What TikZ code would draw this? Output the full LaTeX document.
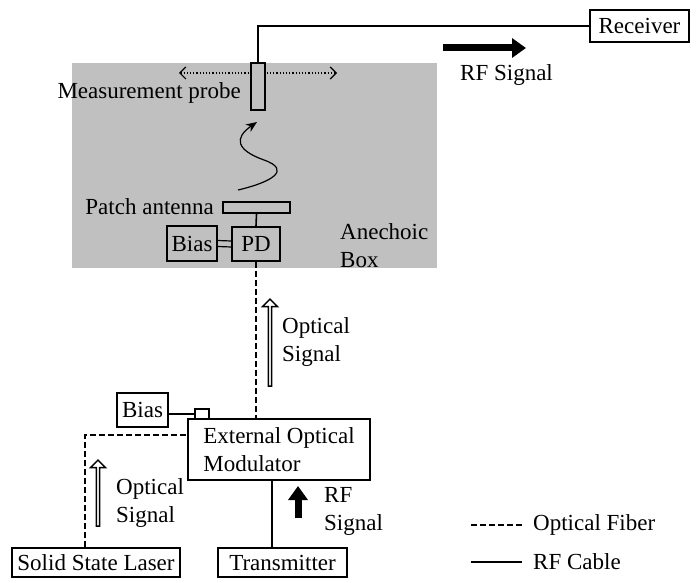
\documentclass[tikz,border=0pt]{standalone}
\usepackage{fontspec}
\setmainfont{Liberation Serif}
\usetikzlibrary{arrows.meta, positioning, shapes.arrows}
\definecolor{boxgray}{RGB}{192,192,192}

\begin{document}
\begin{tikzpicture}[
  x = 1pt, y = -1pt,
  every node/.style = {font=\fontsize{23}{28}\selectfont},
  unit/.style = {
    draw, rectangle, line width=1.6pt, inner sep=0pt, align=center
  },
  label/.style = {inner sep=0pt, align=left},
  fiber/.style = {line width=1.6pt, dash pattern=on 6pt off 3pt},
  rfcable/.style = {line width=1.6pt},
  optflow/.style = {
    draw, single arrow, rotate=90, line width=1.4pt, inner sep=0pt,
    minimum width=15pt, single arrow head extend=2.5pt, single arrow tip angle=90
  },
  rfflow/.style = {line width=7pt, -{Triangle[length=14pt, width=19pt]}}
]
\useasboundingbox (0,0) rectangle (697,583);

% Anechoic box background
\fill[boxgray] (72,63) rectangle (437,268);

% probe scan range, drawn before the probe so it hides behind it
\coordinate (scanL) at (179,73);
\coordinate (scanR) at (337,73);
\draw[dotted, line width=1.2pt, {Straight Barb[length=6pt, width=12pt]}-{Straight Barb[length=6pt, width=12pt]}]
  (scanL) -- (scanR);

\node[unit, fill=boxgray, minimum width=14pt, minimum height=47pt] (probe) at (258,86.5) {};
\node[unit, minimum width=99pt, minimum height=32pt] (receiver) at (639.5,26) {Receiver};
\node[unit, minimum width=67pt, minimum height=11pt] (patch) at (256.5,207.5) {};
\node[unit, minimum width=48pt, minimum height=34pt] (pd) at (256,244) {PD};
\node[unit, minimum width=50pt, minimum height=35pt] (biaspd) at (192,243.5) {Bias};

\node[unit, align=left, minimum width=182pt, minimum height=61pt] (modulator) at (279,449.5)
  {External Optical \\ Modulator};
\node[unit, minimum width=14pt, minimum height=10pt] (port) at (202,414) {};
\node[unit, minimum width=51pt, minimum height=34pt] (biasmod) at (142.5,410) {Bias};
\node[unit, minimum width=168pt, minimum height=29pt] (laser) at (96,562.5) {Solid State Laser};
\node[unit, minimum width=129pt, minimum height=29pt] (transmitter) at (282.5,562.5) {Transmitter};

% labels
\node[label, anchor=east] (probelabel) at (241,93) {Measurement probe};
\node[label, anchor=east] (patchlabel) at (214,207) {Patch antenna};
\node[label, anchor=west] (boxlabel) at (340,246) {Anechoic \\ Box};

% cables
\draw[rfcable] (probe.north) |- (receiver.west);
\draw[rfcable] (patch.south) -- (pd.north);
\draw[line width=1.2pt] ([yshift=3pt]biaspd.east) -- ([yshift=3pt]pd.west);
\draw[line width=1.2pt] ([yshift=-3pt]biaspd.east) -- ([yshift=-3pt]pd.west);
\draw[fiber] (pd.south) -- (pd.south |- modulator.north);
\draw[rfcable] (port.west -| biasmod.east) -- (port.west);
\draw[fiber] ([xshift=-11pt]laser.north) |- ([yshift=14.5pt]modulator.west);
\draw[rfcable] ([xshift=-10.5pt]transmitter.north) -- ([xshift=-10.5pt]transmitter.north |- modulator.south);

% radiated wave
\coordinate (wavestart) at (238,190);
\coordinate (waveend) at (257,122);
\draw[line width=1.2pt, -{Stealth[length=11pt, width=9pt]}]
  (wavestart) .. controls (272,182) and (292,170) .. (264,160)
  .. controls (236,150) and (234,138) .. (waveend);

% signal flow arrows
\node[optflow, minimum height=87pt] (optup) at (270,343.5) {};
\node[label, anchor=west] (optuplabel) at (282,342) {Optical \\ Signal};

\node[optflow, minimum height=66pt] (optlow) at (98,494) {};
\node[label, anchor=west] (optlowlabel) at (116,503) {Optical \\ Signal};

\coordinate (rflowS) at (298,518);
\coordinate (rflowE) at (298,486);
\draw[rfflow] (rflowS) -- (rflowE);
\node[label, anchor=west] (rflowlabel) at (324,511) {RF \\ Signal};

\coordinate (rftopS) at (443,48);
\coordinate (rftopE) at (526,48);
\draw[rfflow] (rftopS) -- (rftopE);
\node[label, anchor=west] (rftoplabel) at (460,75) {RF Signal};

% legend
\coordinate (legfiberA) at (471,525);
\coordinate (legfiberB) at (522,525);
\draw[fiber] (legfiberA) -- (legfiberB);
\node[label, anchor=west] (legfiber) at (533,525) {Optical Fiber};
\coordinate (legrfA) at (471,562);
\coordinate (legrfB) at (522,562);
\draw[rfcable] (legrfA) -- (legrfB);
\node[label, anchor=west] (legrf) at (533,562) {RF Cable};

\end{tikzpicture}
\end{document}
